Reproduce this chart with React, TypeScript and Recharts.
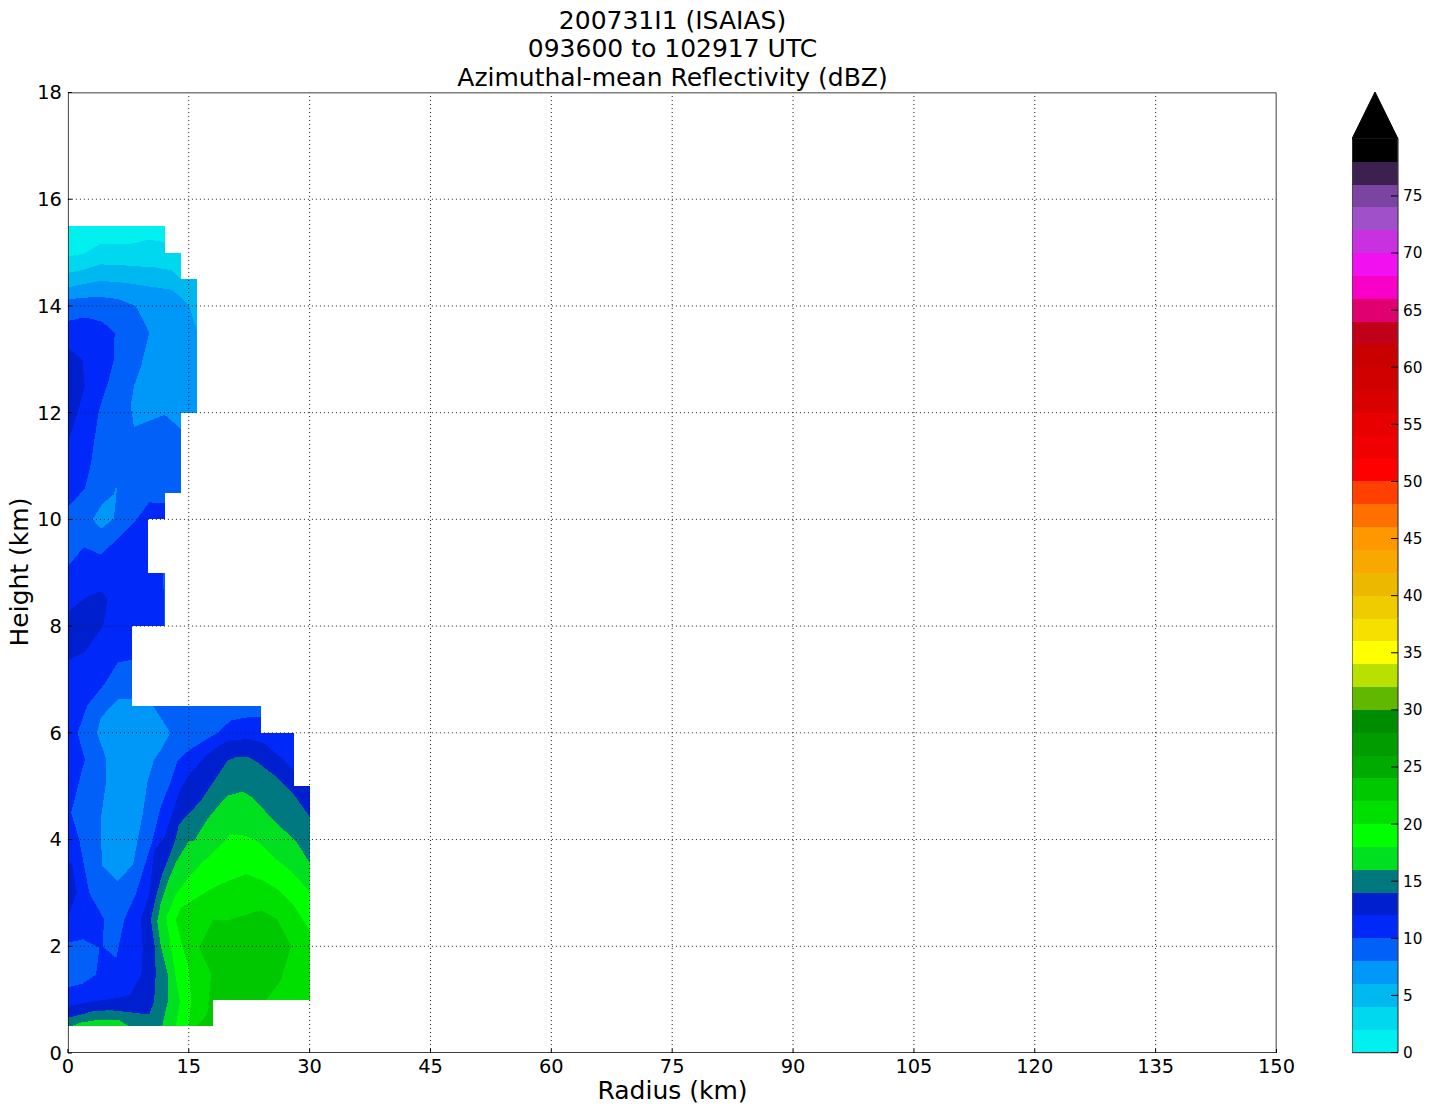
import React from 'react';
import { ComposedChart, BarChart, Bar, Scatter, XAxis, YAxis } from 'recharts';

const FONT = '"DejaVu Sans", sans-serif';

// colour of each 2 dBZ class, starting at 0-2 dBZ
const levelColors = [
  '#00f0f0', '#00d8f0', '#00b8f0', '#0098f8', '#0060f8', '#0028f8', '#0020d0', '#007880',
  '#00e020', '#00ff00', '#00e000', '#00c800', '#00ab00', '#009c00', '#008c00', '#60b800',
  '#b8e000', '#ffff00', '#f5e000', '#eecc00', '#ecb800', '#f8a800', '#ff9800', '#ff7000',
  '#ff4000', '#ff0000', '#f00000', '#e80000', '#d80000', '#d00000', '#c80000', '#c00018',
  '#e00070', '#f800c8', '#f010f0', '#c830e0', '#a050c8', '#7a44a0', '#3c2050', '#000000',
];

const radiusTicks = [0, 15, 30, 45, 60, 75, 90, 105, 120, 135, 150];
const heightTicks = [0, 2, 4, 6, 8, 10, 12, 14, 16, 18];
const dbzTicks = [0, 5, 10, 15, 20, 25, 30, 35, 40, 45, 50, 55, 60, 65, 70, 75];

// contour outlines, [radius km, height km], painted in the order of the layers below
const domain = [[0,15.5],[12,15.5],[12,15],[14,15],[14,14.5],[16,14.5],[16,12],[14,12],[14,10.5],[12,10.5],[12,10],[10,10],[10,9],[12,9],[12,8],[8,8],[8,6.5],[24,6.5],[24,6],[28,6],[28,5],[30,5],[30,1],[18,1],[18,0.5],[0,0.5]];
const top6to8 = [[0,15.5],[12,15.5],[12,15],[14,15],[14,14.5],[16,14.5],[16,12],[14,12],[14,11.7],[12,11.96],[8.2,11.73],[7.8,12.13],[8.2,12.5],[9.1,12.88],[10.1,13.5],[9.3,13.75],[8.4,14],[6.2,14.13],[3.9,14.17],[1.6,14.15],[0,14.12]];
const top4to6 = [[0,15.5],[12,15.5],[12,15],[14,15],[14,14.5],[16,14.5],[16,13.55],[15,14.02],[13,14.3],[9.5,14.38],[6.6,14.44],[4,14.47],[2,14.41],[0,14.35]];
const top2to4 = [[0,15.5],[12,15.5],[12,15],[14,15],[14,14.5],[13,14.66],[11,14.72],[7,14.76],[4,14.78],[2,14.68],[0,14.62]];
const top0to2 = [[0,15.5],[12,15.5],[12,15.2],[10,15.24],[8,15.17],[4,15.16],[2,14.98],[0,14.93]];
const upper10to12 = [[0,13.72],[1.6,13.77],[2.6,13.77],[4.3,13.7],[5.8,13.5],[5.7,13],[5.1,12.63],[4.3,12.25],[3.8,12],[3.2,11.4],[2.9,11.07],[2.1,10.57],[0,10.24]];
const upper12to14 = [[0,13.22],[1.8,12.99],[2.1,12.5],[1.2,12],[0,11.42]];
const blob6to8 = [[3.1,10],[4.1,9.82],[5.7,10.02],[6.1,10.58],[5.9,10.58],[5.7,10.47],[4.2,10.28]];
const lower10to12 = [[0,9.12],[2,9.48],[4.1,9.34],[5.7,9.57],[8.4,9.98],[10.1,10.32],[12,10.3],[12,10],[10,10],[10,9],[11.75,9],[11.95,8.5],[11.9,8],[8,8],[8,7.37],[6.2,7.32],[4.7,6.95],[2.4,6.51],[1.2,6],[2.1,5.5],[0.4,4.5],[1.4,4],[2.65,3],[4.5,2.5],[4.3,2],[6,1.78],[7,2.5],[8.4,2.97],[9.5,3.5],[10.5,3.98],[11,4.29],[11.5,4.6],[12.8,5.1],[13.6,5.48],[15,5.67],[16.9,5.85],[18.6,6],[20.2,6.23],[22.3,6.29],[24,6.29],[24,6],[28,6],[28,5],[30,5],[30,1],[18,1],[18,0.5],[0,0.5]];
const core6to8 = [[6.2,6.63],[8,6.63],[8,6.5],[10.6,6.5],[11.5,6.29],[12.7,6],[11.5,5.67],[10.7,5.5],[9.9,5.1],[9.3,4.5],[8.85,4.16],[8.1,3.54],[6.2,3.22],[4.3,3.5],[4.1,3.98],[4.1,4.4],[4.7,5.04],[4.7,5.54],[3.6,6],[4.1,6.29]];
const low8to10 = [[0,2.07],[1.9,2.13],[3.9,1.97],[3.5,1.47],[1.8,1.3],[0,1.23]];
const mid12to14 = [[0,8.26],[2,8.52],[4.1,8.66],[4.9,8.51],[4.5,8.1],[4.3,8],[2.1,7.51],[0,7.35]];
const left12to14 = [[0,3.63],[0.6,3.5],[1.1,3],[0,2.55]];
const ring12to14 = [[12,4.05],[12.8,4.42],[14,4.95],[15,5.2],[17.3,5.6],[19.4,5.82],[20.6,5.87],[22.5,5.88],[24.4,5.8],[26.4,5.54],[28,5.3],[28,5],[30,5],[30,1],[18,1],[18,0.5],[0,0.5],[0,0.88],[3.3,0.97],[6.2,1.03],[7.8,1.1],[9.1,1.47],[9.3,1.97],[9.05,2.5],[10.1,2.97],[10.7,3.8]];
const ring14to16 = [[10.3,2.5],[10.9,2.91],[11.7,3.35],[13,3.85],[13.3,3.98],[13.8,4.29],[15,4.48],[16.5,4.73],[17.9,5.04],[19.8,5.48],[20.8,5.54],[22.5,5.54],[23.5,5.45],[26,5.16],[28,4.85],[30,4.43],[30,1],[18,1],[18,0.5],[0,0.5],[0,0.66],[1.6,0.72],[3.3,0.79],[5.3,0.8],[7.4,0.77],[10.1,0.72],[10.7,0.97],[10.9,1.47],[10.8,1.97]];
const ring16to18 = [[11.1,2.47],[11.5,2.79],[12.6,3.29],[13.4,3.57],[15,3.97],[15.7,3.98],[17.3,4.38],[19.4,4.76],[19.8,4.82],[21.7,4.9],[22.9,4.79],[25.6,4.35],[28.3,3.97],[30,3.57],[30,1],[18,1],[18,0.5],[11.7,0.5],[12.4,0.97],[12.4,1.47],[11.5,2.03]];
const low16to18 = [[0.4,0.5],[1.6,0.57],[3.3,0.61],[6.4,0.61],[7.6,0.5]];
const ring18to20 = [[12.2,2.54],[13.4,2.97],[15,3.29],[16.5,3.54],[19,3.91],[20.2,4.1],[22.1,4.07],[23.5,3.97],[25.6,3.66],[27.7,3.41],[30,3.03],[30,1],[18,1],[18,0.5],[13.4,0.5],[13.9,0.97],[13.4,1.41],[12.6,2.16]];
const ring20to22 = [[13.4,2.5],[14,2.72],[15.7,2.88],[17.7,3.07],[19.8,3.22],[22.1,3.35],[24,3.25],[26,3.07],[28.1,2.75],[30,2.3],[30,1],[18,1],[18,0.5],[15,0.5],[15.3,0.97],[15,1.6],[14.2,2]];
const core22to24 = [[18,2.5],[20.2,2.5],[22.3,2.6],[24,2.68],[26,2.5],[27.7,2],[26.4,1.35],[24.6,1],[18,1],[18,0.5],[15.9,0.5],[17.3,0.72],[17.8,1.47],[16.3,1.97]];

// [outline, class index into levelColors]
const layers: [number[][], number][] = [
  [domain, 4], [top6to8, 3], [top4to6, 2], [top2to4, 1], [top0to2, 0],
  [upper10to12, 5], [upper12to14, 6], [blob6to8, 3], [lower10to12, 5],
  [core6to8, 3], [low8to10, 4], [mid12to14, 6], [left12to14, 6],
  [ring12to14, 6], [ring14to16, 7], [ring16to18, 8], [low16to18, 8],
  [ring18to20, 9], [ring20to22, 10], [core22to24, 11],
];

const RADIUS_MAX = 150;
const HEIGHT_MAX = 18;
const frame = [[0, 0], [RADIUS_MAX, 0], [RADIUS_MAX, HEIGHT_MAX], [0, HEIGHT_MAX], [0, 0]];

const colorbarRow: Record<string, number | string> = { name: 'dBZ', over: 4.1 };
levelColors.forEach((_, i) => { colorbarRow['l' + i] = 2; });

const NoPoint = () => null;

const fillOutline = (color: string) => (props: any) => (
  <polygon
    key={color + props.points[0].x + props.points[0].y}
    points={props.points.map((p: any) => `${p.x},${p.y}`).join(' ')}
    fill={color}
    stroke="none"
    shapeRendering="crispEdges"
  />
);

const toRows = (pts: number[][]) => pts.map(([r, h]) => ({ r, h }));

// one colorbar class with the bar's side lines
const BandRect = (props: any) => {
  const { x, y, width, height, fill, bottom } = props;
  return (
    <g>
      <rect x={x} y={y} width={width} height={height} fill={fill} shapeRendering="crispEdges" />
      <line x1={x} x2={x} y1={y} y2={y + height} stroke="#444" strokeWidth={1.25} />
      <line x1={x + width} x2={x + width} y1={y} y2={y + height} stroke="#444" strokeWidth={1.25} />
      {bottom && <line x1={x} x2={x + width} y1={y + height} y2={y + height} stroke="#444" strokeWidth={1.25} />}
    </g>
  );
};

const ArrowHead = (props: any) => {
  const { x, y, width, height } = props;
  return (
    <polygon
      points={`${x},${y + height} ${x + width / 2},${y} ${x + width},${y + height}`}
      fill="#000"
      stroke="#000"
    />
  );
};

const tickStyle = { fontSize: 19.4, fill: '#000', fontFamily: FONT };

export default function App() {
  return (
    <div style={{ position: 'absolute', left: 0, top: 0, width: 1433, height: 1112, fontFamily: FONT, color: '#000' }}>
      <div style={{ position: 'absolute', left: 67, width: 1211, top: 7, textAlign: 'center', fontSize: 25, lineHeight: '28.3px' }}>
        <div>200731I1 (ISAIAS)</div>
        <div>093600 to 102917 UTC</div>
        <div>Azimuthal-mean Reflectivity (dBZ)</div>
      </div>
      <div style={{ position: 'absolute', left: 67, width: 1211, top: 1077, textAlign: 'center', fontSize: 25, lineHeight: '28px' }}>Radius (km)</div>
      <div style={{ position: 'absolute', left: 20, top: 572, fontSize: 25, lineHeight: '28px', whiteSpace: 'nowrap', transform: 'translate(-50%, -50%) rotate(-90deg)' }}>Height (km)</div>

      <div style={{ position: 'absolute', left: 0, top: 0 }}>
        <ComposedChart width={1340} height={1112} margin={{ top: 92.5, right: 63.5, bottom: 29, left: 17.9 }}>
          <XAxis xAxisId="b" type="number" dataKey="r" domain={[0, RADIUS_MAX]} ticks={radiusTicks} allowDataOverflow
            interval={0} tick={tickStyle} tickSize={-4} tickMargin={10} height={30} stroke="#000" axisLine={false} />
          <XAxis xAxisId="t" type="number" dataKey="r" orientation="top" domain={[0, RADIUS_MAX]} ticks={radiusTicks}
            interval={0} tick={false} tickSize={-4} height={0} stroke="#000" axisLine={false} />
          <YAxis yAxisId="l" type="number" dataKey="h" domain={[0, HEIGHT_MAX]} ticks={heightTicks} allowDataOverflow
            interval={0} tick={tickStyle} tickSize={-4} tickMargin={10} width={50} stroke="#000" axisLine={false} zIndex={700} />
          <YAxis yAxisId="r" type="number" dataKey="h" orientation="right" domain={[0, HEIGHT_MAX]} ticks={heightTicks}
            interval={0} tick={false} tickSize={-4} width={0} stroke="#000" axisLine={false} />
          {layers.map(([outline, level], i) => (
            <Scatter
              key={i}
              xAxisId="b"
              yAxisId="l"
              data={toRows(outline)}
              dataKey="h"
              fill={levelColors[level]}
              line={fillOutline(levelColors[level])}
              shape={NoPoint}
              isAnimationActive={false}
            />
          ))}
          {/* matplotlib draws the dotted grid over the contours */}
          {radiusTicks.slice(1, -1).map((r) => (
            <Scatter key={'gx' + r} xAxisId="b" yAxisId="l" data={toRows([[r, 0], [r, HEIGHT_MAX]])} dataKey="h"
              line={{ stroke: '#222', strokeWidth: 1, strokeDasharray: '1 3' }} shape={NoPoint} isAnimationActive={false} />
          ))}
          {heightTicks.slice(1, -1).map((h) => (
            <Scatter key={'gy' + h} xAxisId="b" yAxisId="l" data={toRows([[0, h], [RADIUS_MAX, h]])} dataKey="h"
              line={{ stroke: '#222', strokeWidth: 1, strokeDasharray: '1 3' }} shape={NoPoint} isAnimationActive={false} />
          ))}
          <Scatter xAxisId="b" yAxisId="l" data={toRows(frame)} dataKey="h"
            line={{ stroke: '#000', strokeWidth: 1.5 }} shape={NoPoint} isAnimationActive={false} />
        </ComposedChart>
      </div>

      <div style={{ position: 'absolute', left: 1352, top: 0 }}>
        <BarChart width={81} height={1112} data={[colorbarRow]} barCategoryGap={0}
          margin={{ top: 92, right: 0, bottom: 59.5, left: 0 }}>
          <XAxis dataKey="name" hide />
          <YAxis orientation="right" type="number" domain={[0, 84.1]} ticks={dbzTicks} interval={0} width={35}
            axisLine={false} tick={{ fontSize: 15.3, fill: '#000', fontFamily: FONT }}
            tickSize={-7} tickMargin={12} stroke="#000" />
          {levelColors.map((c, i) => (
            <Bar key={c} dataKey={'l' + i} stackId="cb" fill={c} isAnimationActive={false}
              shape={(p: any) => <BandRect {...p} bottom={i === 0} />} />
          ))}
          <Bar dataKey="over" stackId="cb" shape={ArrowHead} isAnimationActive={false} />
        </BarChart>
      </div>
    </div>
  );
}
